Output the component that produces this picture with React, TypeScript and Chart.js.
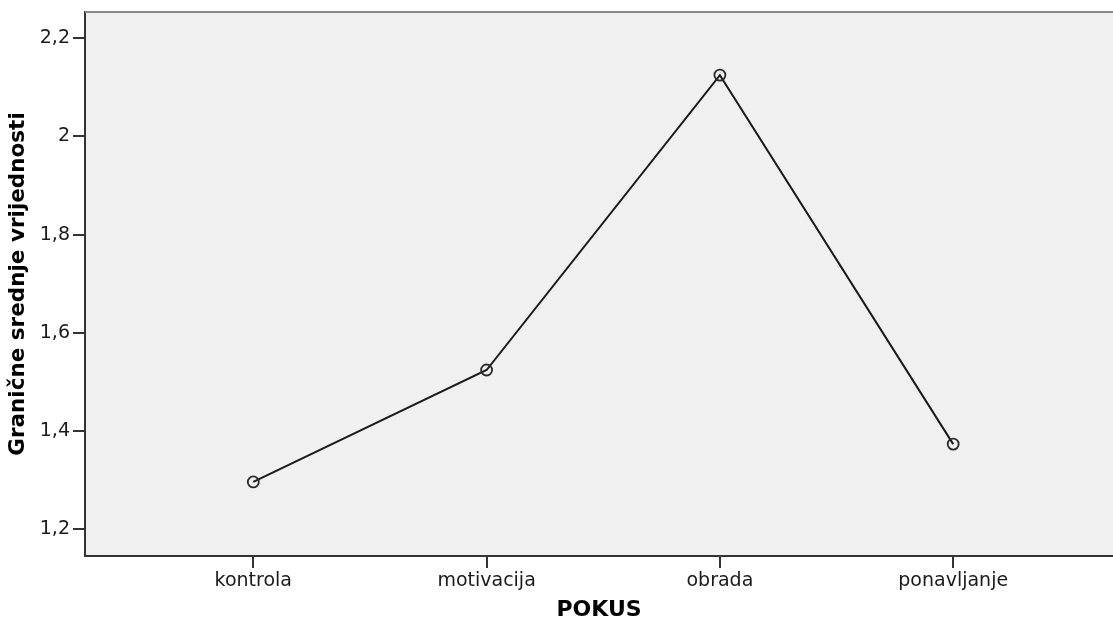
import React, { useEffect, useRef } from "react";
import { Chart, registerables } from "chart.js";

Chart.register(...registerables);

const categories = ["kontrola", "motivacija", "obrada", "ponavljanje"];
const meanValues = [1.296, 1.524, 2.125, 1.373];
const yTickValues = [1.2, 1.4, 1.6, 1.8, 2.0, 2.2];
const yAxisTitle = "Granične srednje vrijednosti";
const xAxisTitle = "POKUS";

const W = 1113;
const H = 623;

const plotBg = {
  id: "plotBg",
  beforeDraw(chart: any) {
    const { ctx, chartArea } = chart;
    ctx.save();
    ctx.fillStyle = "#f0f0f0";
    ctx.fillRect(chartArea.left, chartArea.top, chartArea.right - chartArea.left, chartArea.bottom - chartArea.top);
    ctx.restore();
  },
  afterDraw(chart: any) {
    const { ctx, chartArea } = chart;
    ctx.save();
    ctx.strokeStyle = "#8a8a8a";
    ctx.lineWidth = 2;
    ctx.beginPath();
    ctx.moveTo(chartArea.left, chartArea.top);
    ctx.lineTo(chartArea.right, chartArea.top);
    ctx.stroke();
    ctx.restore();
  },
};

export default function App() {
  const ref = useRef<HTMLCanvasElement | null>(null);

  useEffect(() => {
    if (!ref.current) return;
    const font = "'DejaVu Sans', Verdana, sans-serif";
    const chart = new Chart(ref.current, {
      type: "line",
      data: {
        datasets: [
          {
            data: categories.map((_, i) => ({ x: i, y: meanValues[i] })),
            borderColor: "#1a1a1a",
            borderWidth: 2,
            pointRadius: 5.5,
            pointBorderWidth: 1.8,
            pointBorderColor: "#2a2a2a",
            pointBackgroundColor: "rgba(0,0,0,0)",
            tension: 0,
            fill: false,
          },
        ],
      },
      options: {
        responsive: false,
        animation: false,
        layout: { autoPadding: false, padding: { top: 12, left: 0, right: 0, bottom: 0 } },
        plugins: {
          legend: { display: false },
          tooltip: { enabled: false },
        },
        scales: {
          x: {
            type: "linear",
            min: -0.7214,
            max: 3.685,
            afterBuildTicks(scale: any) {
              scale.ticks = categories.map((_, i) => ({ value: i }));
            },
            afterFit(scale: any) {
              scale.height = 67;
              scale.paddingLeft = 0;
              scale.paddingRight = 0;
            },
            ticks: {
              callback: (v: any) => categories[Number(v)] ?? "",
              color: "#1a1a1a",
              font: { family: font, size: 19 },
              padding: 2,
              maxRotation: 0,
              autoSkip: false,
            },
            grid: {
              drawOnChartArea: false,
              drawTicks: true,
              tickLength: 12,
              color: "#333333",
              lineWidth: 2,
            },
            border: { display: true, color: "#333333", width: 2 },
            title: {
              display: true,
              text: xAxisTitle,
              color: "#000000",
              font: { family: font, size: 22, weight: "bold" },
              padding: { top: 0, bottom: 0 },
            },
          },
          y: {
            type: "linear",
            min: 1.145,
            max: 2.2536,
            afterBuildTicks(scale: any) {
              scale.ticks = yTickValues.map((v) => ({ value: v }));
            },
            afterFit(scale: any) {
              scale.width = 85;
              scale.paddingTop = 0;
              scale.paddingBottom = 0;
            },
            ticks: {
              callback: (v: any) => String(Number(v)).replace(".", ","),
              color: "#1a1a1a",
              font: { family: font, size: 19 },
              padding: 3,
            },
            grid: {
              drawOnChartArea: false,
              drawTicks: true,
              tickLength: 12,
              color: "#333333",
              lineWidth: 2,
            },
            border: { display: true, color: "#333333", width: 2 },
            title: {
              display: true,
              text: yAxisTitle,
              color: "#000000",
              font: { family: font, size: 21.5, weight: "bold" },
              padding: { top: 6, bottom: 0 },
            },
          },
        },
      },
      plugins: [plotBg],
    } as any);
    return () => chart.destroy();
  }, []);

  return (
    <div style={{ position: "absolute", left: 0, top: 0, width: W, height: H, background: "#ffffff" }}>
      <canvas ref={ref} width={W} height={H} style={{ display: "block" }} />
    </div>
  );
}
